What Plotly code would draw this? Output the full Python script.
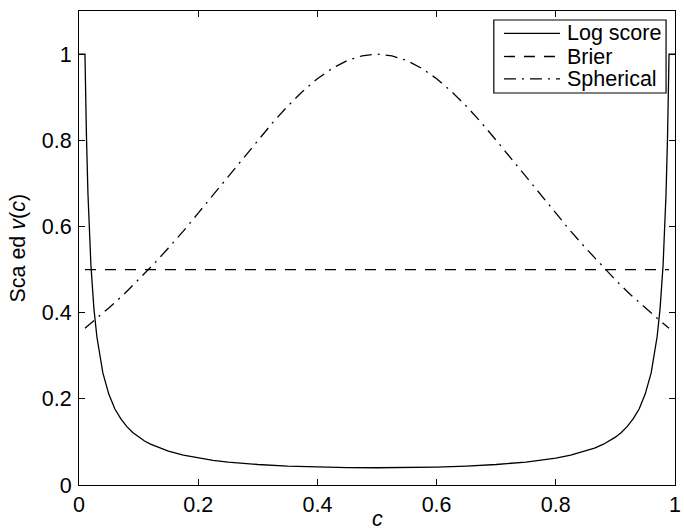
import plotly.graph_objects as go

# log score
c_log = [0, 0.01, 0.0125, 0.015, 0.02, 0.025, 0.03, 0.04, 0.05, 0.06, 0.07, 0.08,
         0.09, 0.1, 0.11, 0.12, 0.135, 0.15, 0.175, 0.2, 0.225, 0.25, 0.3, 0.35,
         0.4, 0.45, 0.5]
v_log = [1.0, 1.0, 0.810, 0.677, 0.510, 0.410, 0.344, 0.260, 0.211, 0.177, 0.154,
         0.136, 0.122, 0.111, 0.102, 0.0947, 0.0856, 0.0784, 0.0693, 0.0625,
         0.0573, 0.0533, 0.0476, 0.0440, 0.0417, 0.0404, 0.040]
# mirror the right half
c_log = c_log + [round(1 - c, 4) for c in reversed(c_log[:-1])]
v_log = v_log + list(reversed(v_log[:-1]))

c_brier = [0.01, 0.99]
v_brier = [0.5, 0.5]

c_sph = [0.01, 0.025, 0.05, 0.075, 0.1, 0.125, 0.15, 0.175, 0.2, 0.225, 0.25,
         0.275, 0.3, 0.325, 0.35, 0.375, 0.4, 0.425, 0.45, 0.475, 0.5]
v_sph = [0.364, 0.381, 0.411, 0.442, 0.476, 0.512, 0.550, 0.589, 0.631, 0.673,
         0.716, 0.758, 0.800, 0.841, 0.879, 0.913, 0.943, 0.967, 0.985, 0.996, 1.0]
c_sph = c_sph + [round(1 - c, 4) for c in reversed(c_sph[:-1])]
v_sph = v_sph + list(reversed(v_sph[:-1]))

names = ["Log score", "Brier", "Spherical"]
ticks = [0, 0.2, 0.4, 0.6, 0.8, 1]
tick_text = ["0", "0.2", "0.4", "0.6", "0.8", "1"]

font = "Liberation Sans, Arial, sans-serif"
fs = 21.5
styles = [dict(color="black", width=1.3),
          dict(color="black", width=1.3, dash="11px,9px"),
          dict(color="black", width=1.3, dash="12px,6px,2px,6px")]

fig = go.Figure()
for xs, ys, nm, st in zip([c_log, c_brier, c_sph], [v_log, v_brier, v_sph], names, styles):
    fig.add_trace(go.Scatter(x=xs, y=ys, mode="lines", name=nm, line=st))

axis = dict(showline=True, linecolor="black", linewidth=1.2, mirror="ticks",
            ticks="inside", ticklen=6, tickcolor="black", tickwidth=1,
            showgrid=False, zeroline=False, tickvals=ticks, ticktext=tick_text,
            ticklabeloverflow="allow",
            tickfont=dict(family=font, size=fs, color="black"))

# legend drawn by hand so the box is as tight as the original one
fig.add_shape(type="rect", xref="paper", yref="paper", x0=0.696, x1=0.985,
              y0=0.827, y1=0.981, line=dict(color="black", width=1.2),
              fillcolor="white", layer="above")
for ry, nm, st in zip([0.953, 0.904, 0.857], names, styles):
    fig.add_shape(type="line", xref="paper", yref="paper", x0=0.713, x1=0.807,
                  y0=ry, y1=ry, line=st, layer="above")
    fig.add_annotation(text=nm, xref="paper", yref="paper", x=0.815, y=ry,
                       xanchor="left", yanchor="middle", showarrow=False,
                       font=dict(family=font, size=fs, color="black"))

# axis titles
fig.add_annotation(text="Sca ed <i>v</i>(<i>c</i>)", xref="paper", yref="paper",
                   x=-0.103, y=0.5, textangle=-90, showarrow=False,
                   xanchor="center", yanchor="middle",
                   font=dict(family=font, size=fs, color="black"))
fig.add_annotation(text="<i>c</i>", xref="paper", yref="paper",
                   x=0.5, y=-0.072, showarrow=False,
                   xanchor="center", yanchor="middle",
                   font=dict(family=font, size=fs, color="black"))

fig.update_layout(
    width=684, height=531,
    margin=dict(l=79, r=3, t=11, b=46),
    paper_bgcolor="white", plot_bgcolor="white",
    font=dict(family=font, size=fs, color="black"),
    xaxis=dict(axis, range=[0, 1]),
    yaxis=dict(axis, range=[0, 1.1], ticklabelstandoff=2),
    showlegend=False,
)

# drop the default 8px page margin so the figure sits flush in the window
fig.write_html("out.html", config={"displayModeBar": False},
               post_script="document.body.style.margin='0';")
